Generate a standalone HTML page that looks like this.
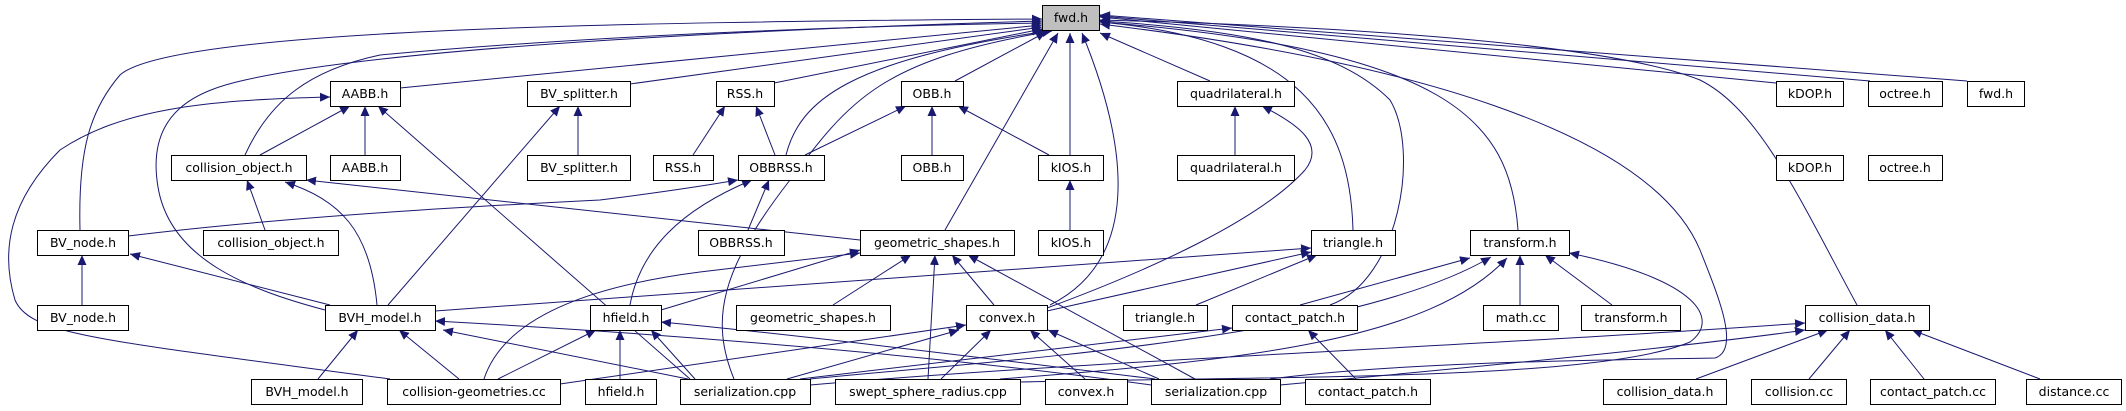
<!DOCTYPE html>
<html><head><meta charset="utf-8"><style>
html,body{margin:0;padding:0;background:#fff;}
svg{display:block}
text{font-family:"DejaVu Sans","Liberation Sans",sans-serif;font-size:12.5px;fill:#000}
</style></head><body>
<svg width="2126" height="411" viewBox="0 0 2126 411" xmlns="http://www.w3.org/2000/svg">
<defs><marker id="a" markerUnits="userSpaceOnUse" markerWidth="11" markerHeight="9" refX="10" refY="4.5" orient="auto"><path d="M0,0 L10,4.5 L0,9 z" fill="#191970"/></marker></defs>
<g fill="none" stroke="#191970" stroke-width="1" marker-end="url(#a)">
<!-- to fwd.h -->
<path d="M80,230 C78,150 90,110 120,75 C170,30 600,22 1042,19"/>
<path d="M325,310 C250,290 170,260 158,187 C145,110 200,90 245,80 C400,45 800,28 1042,21"/>
<path d="M245,155 C270,100 310,70 380,55 C600,35 850,26 1042,23"/>
<path d="M400,88 L1042,25"/>
<path d="M630,84 L1042,27"/>
<path d="M774,83 L1042,29"/>
<path d="M786,155 C800,100 850,60 1048,31"/>
<path d="M734,379 C710,320 720,270 790,180 C850,100 880,60 1052,31"/>
<path d="M955,81 L1046,32"/>
<path d="M945,230 L1058,33"/>
<path d="M1070,155 L1070,33"/>
<path d="M1050,305 C1140,260 1130,150 1082,33"/>
<path d="M1210,81 L1100,33"/>
<path d="M1353,230 C1350,120 1300,40 1100,22"/>
<path d="M1330,305 C1400,280 1420,150 1390,100 C1340,50 1250,30 1100,21"/>
<path d="M1518,230 C1510,120 1450,50 1100,22"/>
<path d="M1270,379 C1400,362 1600,360 1715,358 C1740,350 1720,300 1700,250 C1650,130 1400,60 1100,24"/>
<path d="M1857,305 C1800,200 1760,110 1700,80 C1600,40 1300,25 1100,20"/>
<path d="M1776,83 L1100,17"/>
<path d="M1870,81 L1100,16"/>
<path d="M1967,81 L1100,15"/>
<!-- AABB -->
<path d="M365,155 L365,106"/>
<path d="M260,155 L350,106"/>
<path d="M390,379 C100,340 30,335 15,300 C0,250 10,200 60,150 C120,110 200,100 330,97"/>
<path d="M690,379 L378,106"/>
<!-- BV_splitter -->
<path d="M578,155 L578,106"/>
<path d="M388,305 L560,106"/>
<!-- collision_object -->
<path d="M265,230 L247,180"/>
<path d="M377,305 C370,230 340,200 285,182"/>
<path d="M860,240 L306,180"/>
<!-- BV_node -->
<path d="M82,305 L82,255"/>
<path d="M330,305 L130,254"/>
<path d="M128,236 C300,215 500,205 600,200 C680,190 720,183 738,180"/>
<!-- RSS / OBB / OBBRSS / kIOS -->
<path d="M693,155 L725,106"/>
<path d="M775,155 L756,106"/>
<path d="M805,155 L906,106"/>
<path d="M932,155 L932,106"/>
<path d="M1049,155 L958,106"/>
<path d="M748,230 L769,180"/>
<path d="M630,305 C640,250 680,210 752,180"/>
<path d="M1070,230 L1070,180"/>
<!-- quadrilateral -->
<path d="M1235,155 L1235,106"/>
<path d="M1047,308 C1150,270 1260,220 1305,170 C1325,145 1300,125 1262,106"/>
<!-- geometric_shapes -->
<path d="M833,305 L911,255"/>
<path d="M928,379 L935,255"/>
<path d="M994,305 L952,255"/>
<path d="M1195,379 L968,255"/>
<path d="M661,310 L860,250"/>
<path d="M484,379 C500,330 560,290 700,272 C780,262 830,257 860,253"/>
<!-- triangle -->
<path d="M1196,305 L1317,255"/>
<path d="M1047,311 L1311,252"/>
<path d="M435,311 L1311,248"/>
<!-- convex -->
<path d="M1085,379 L1030,330"/>
<path d="M941,379 L991,330"/>
<path d="M787,379 L959,330"/>
<path d="M1159,379 L1048,330"/>
<path d="M560,384 L966,325"/>
<!-- hfield -->
<path d="M620,379 L620,330"/>
<path d="M498,379 L596,330"/>
<path d="M695,379 L651,330"/>
<path d="M1155,379 C1000,360 800,335 661,322"/>
<!-- BVH_model -->
<path d="M318,379 L358,330"/>
<path d="M459,379 L399,330"/>
<path d="M688,379 L443,330"/>
<path d="M1151,385 C900,350 600,330 435,321"/>
<!-- contact_patch -->
<path d="M1356,379 L1308,330"/>
<path d="M800,379 L1232,328"/>
<!-- transform -->
<path d="M1300,305 L1470,258"/>
<path d="M1520,305 L1520,255"/>
<path d="M1612,305 L1545,255"/>
<path d="M810,379 C1000,360 1350,340 1491,257"/>
<path d="M1000,379 C1250,360 1430,340 1507,258"/>
<path d="M1020,382 C1300,376 1600,380 1690,342 C1720,320 1700,280 1569,253"/>
<!-- collision_data -->
<path d="M1696,379 L1828,330"/>
<path d="M1809,379 L1850,330"/>
<path d="M1924,379 L1885,330"/>
<path d="M2040,379 L1912,330"/>
<path d="M810,385 C1100,360 1500,345 1805,323"/>
<path d="M1280,385 C1500,365 1700,345 1805,330"/>
</g>
<g stroke="#000" stroke-width="1">
<rect x="1042.5" y="5.5" width="57" height="25" fill="#bfbfbf"/>
<g fill="#fff">
<rect x="330.5" y="81.5" width="70" height="25"/>
<rect x="527.5" y="81.5" width="103" height="25"/>
<rect x="716.5" y="81.5" width="58" height="25"/>
<rect x="901.5" y="81.5" width="62" height="25"/>
<rect x="1177.5" y="81.5" width="117" height="25"/>
<rect x="1776.5" y="81.5" width="67" height="25"/>
<rect x="1868.5" y="81.5" width="74" height="25"/>
<rect x="1967.5" y="81.5" width="57" height="25"/>
<rect x="171.5" y="155.5" width="135" height="25"/>
<rect x="330.5" y="155.5" width="70" height="25"/>
<rect x="527.5" y="155.5" width="103" height="25"/>
<rect x="653.5" y="155.5" width="60" height="25"/>
<rect x="738.5" y="155.5" width="86" height="25"/>
<rect x="901.5" y="155.5" width="62" height="25"/>
<rect x="1038.5" y="155.5" width="65" height="25"/>
<rect x="1177.5" y="155.5" width="117" height="25"/>
<rect x="1776.5" y="155.5" width="67" height="25"/>
<rect x="1868.5" y="155.5" width="74" height="25"/>
<rect x="37.5" y="230.5" width="91" height="25"/>
<rect x="203.5" y="230.5" width="135" height="25"/>
<rect x="698.5" y="230.5" width="86" height="25"/>
<rect x="860.5" y="230.5" width="154" height="25"/>
<rect x="1038.5" y="230.5" width="65" height="25"/>
<rect x="1311.5" y="230.5" width="84" height="25"/>
<rect x="1470.5" y="230.5" width="99" height="25"/>
<rect x="37.5" y="305.5" width="91" height="25"/>
<rect x="325.5" y="305.5" width="110" height="25"/>
<rect x="590.5" y="305.5" width="71" height="25"/>
<rect x="736.5" y="305.5" width="154" height="25"/>
<rect x="966.5" y="305.5" width="81" height="25"/>
<rect x="1123.5" y="305.5" width="84" height="25"/>
<rect x="1232.5" y="305.5" width="125" height="25"/>
<rect x="1483.5" y="305.5" width="75" height="25"/>
<rect x="1581.5" y="305.5" width="99" height="25"/>
<rect x="1805.5" y="305.5" width="124" height="25"/>
<rect x="251.5" y="379.5" width="111" height="25"/>
<rect x="387.5" y="379.5" width="173" height="25"/>
<rect x="585.5" y="379.5" width="71" height="25"/>
<rect x="680.5" y="379.5" width="130" height="25"/>
<rect x="835.5" y="379.5" width="185" height="25"/>
<rect x="1045.5" y="379.5" width="82" height="25"/>
<rect x="1151.5" y="379.5" width="129" height="25"/>
<rect x="1305.5" y="379.5" width="125" height="25"/>
<rect x="1603.5" y="379.5" width="123" height="25"/>
<rect x="1751.5" y="379.5" width="95" height="25"/>
<rect x="1870.5" y="379.5" width="125" height="25"/>
<rect x="2026.5" y="379.5" width="95" height="25"/>
</g></g>
<g text-anchor="middle">
<text x="1071" y="22">fwd.h</text>
<text x="365" y="98">AABB.h</text>
<text x="579" y="98">BV_splitter.h</text>
<text x="745" y="98">RSS.h</text>
<text x="932" y="98">OBB.h</text>
<text x="1236" y="98">quadrilateral.h</text>
<text x="1810" y="98">kDOP.h</text>
<text x="1905" y="98">octree.h</text>
<text x="1996" y="98">fwd.h</text>
<text x="239" y="172">collision_object.h</text>
<text x="365" y="172">AABB.h</text>
<text x="579" y="172">BV_splitter.h</text>
<text x="683" y="172">RSS.h</text>
<text x="781" y="172">OBBRSS.h</text>
<text x="932" y="172">OBB.h</text>
<text x="1071" y="172">kIOS.h</text>
<text x="1236" y="172">quadrilateral.h</text>
<text x="1810" y="172">kDOP.h</text>
<text x="1905" y="172">octree.h</text>
<text x="83" y="247">BV_node.h</text>
<text x="271" y="247">collision_object.h</text>
<text x="741" y="247">OBBRSS.h</text>
<text x="937" y="247">geometric_shapes.h</text>
<text x="1071" y="247">kIOS.h</text>
<text x="1353" y="247">triangle.h</text>
<text x="1520" y="247">transform.h</text>
<text x="83" y="322">BV_node.h</text>
<text x="380" y="322">BVH_model.h</text>
<text x="626" y="322">hfield.h</text>
<text x="813" y="322">geometric_shapes.h</text>
<text x="1007" y="322">convex.h</text>
<text x="1165" y="322">triangle.h</text>
<text x="1295" y="322">contact_patch.h</text>
<text x="1521" y="322">math.cc</text>
<text x="1631" y="322">transform.h</text>
<text x="1867" y="322">collision_data.h</text>
<text x="307" y="396">BVH_model.h</text>
<text x="474" y="396">collision-geometries.cc</text>
<text x="621" y="396">hfield.h</text>
<text x="745" y="396">serialization.cpp</text>
<text x="928" y="396">swept_sphere_radius.cpp</text>
<text x="1086" y="396">convex.h</text>
<text x="1216" y="396">serialization.cpp</text>
<text x="1368" y="396">contact_patch.h</text>
<text x="1665" y="396">collision_data.h</text>
<text x="1799" y="396">collision.cc</text>
<text x="1933" y="396">contact_patch.cc</text>
<text x="2074" y="396">distance.cc</text>
</g>
</svg>
</body></html>
